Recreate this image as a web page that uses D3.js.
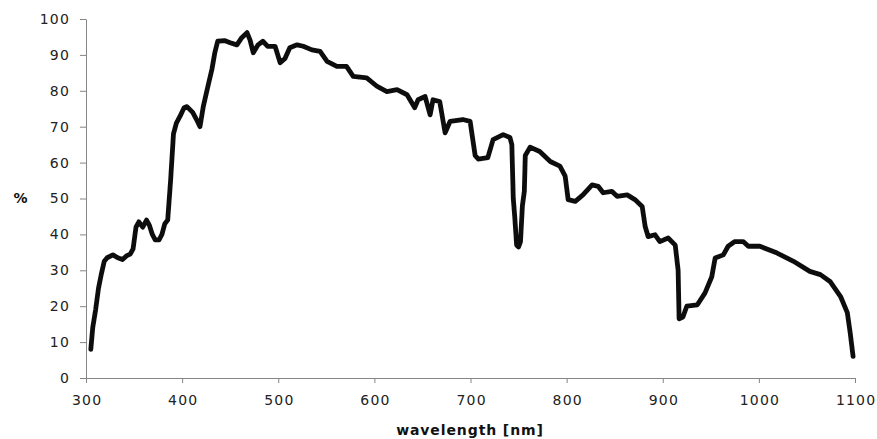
<!DOCTYPE html>
<html>
<head>
    <title>Spectrum</title>
    <script src="https://d3js.org/d3.v7.min.js"></script>
    <style>
        body { margin: 0; background: #fff; }
        .tick text { font: 14px "DejaVu Sans", Verdana, sans-serif; fill: #222; letter-spacing: 1.2px; }
        .domain, .tick line { stroke: #858585; }
        .title { font: bold 14px "DejaVu Sans", Verdana, sans-serif; fill: #111; letter-spacing: 0.9px; }
        .line { fill: none; stroke: #111; stroke-width: 4.8px; stroke-linejoin: round; stroke-linecap: round; }
    </style>
</head>
<body>
    <div id="chart"></div>

    <script>
        // wavelength [nm] and %
        const wavelengths = [
            305, 307, 310, 313, 316, 319, 322, 328, 333, 338, 342, 346, 349, 352, 355, 359, 363, 366, 369, 372,
            376, 379, 382, 385, 388, 391, 394, 398, 402, 405, 411, 415, 418.6, 422, 426, 431, 434, 437, 444, 450,
            457, 462, 467.5, 470.6, 474, 479, 484, 489, 496.7, 502, 507, 512, 519.6, 526, 535, 543.5, 550.8, 561, 571, 578,
            592, 603, 613, 623.6, 634, 642, 645.5, 652.8, 658, 661, 668, 673.6, 678.8, 692, 699.6, 704.8, 708, 718, 723.5, 734,
            741, 743, 744.5, 746, 748, 750, 752, 754, 756, 757, 762, 772, 783, 793, 798.5, 801.6, 809, 817, 826.5, 832.8,
            838, 847, 852.5, 863, 871, 878.6, 881.7, 884.8, 892, 897, 905.6, 913, 916, 917, 921, 925, 936, 944, 951, 954.5,
            963, 968, 975, 983.7, 989, 1001, 1019, 1036, 1053, 1064, 1074, 1085, 1092, 1095, 1098
        ];
        const percent = [
            8, 14, 19, 25, 29, 32.5, 33.5, 34.3, 33.5, 33, 34, 34.5, 36, 42, 43.5, 42, 44, 42.5, 40, 38.5,
            38.5, 40, 43, 44, 55, 68, 71, 73, 75.3, 75.6, 74, 72, 70, 75.6, 80.3, 86, 90.6, 93.8, 94, 93.4,
            92.8, 94.8, 96.2, 94.2, 90.6, 92.8, 93.8, 92.4, 92.4, 87.8, 89, 92, 92.8, 92.4, 91.4, 91, 88.2, 86.8, 86.8, 84,
            83.6, 81.2, 79.8, 80.3, 78.9, 75.3, 77.5, 78.4, 73.3, 77.5, 77, 68.3, 71.5, 72, 71.5, 62, 61, 61.4, 66.4, 67.8,
            67, 65, 50, 45, 37, 36.5, 38, 48, 52, 62, 64.3, 63.1, 60.3, 59, 56.2, 49.7, 49.2, 51, 53.8, 53.4,
            51.6, 52, 50.6, 51, 49.7, 47.8, 42.2, 39.4, 39.9, 38, 39, 37, 30, 16.5, 17, 20, 20.4, 23.7, 28.2, 33.4,
            34.3, 36.7, 38, 38, 36.7, 36.7, 34.8, 32.5, 29.7, 28.8, 26.9, 22.7, 18.2, 12.6, 6
        ];
        const xTicks = [300, 400, 500, 600, 700, 800, 900, 1000, 1100];
        const yTicks = [0, 10, 20, 30, 40, 50, 60, 70, 80, 90, 100];

        const width = 877;
        const height = 439;
        const margin = { top: 19, right: 22, bottom: 61, left: 86 };

        const svg = d3.select("#chart")
            .append("svg")
            .attr("width", width)
            .attr("height", height);

        const x = d3.scaleLinear()
            .domain([300, 1100])
            .range([margin.left, width - margin.right]);

        const y = d3.scaleLinear()
            .domain([0, 100])
            .range([height - margin.bottom, margin.top]);

        // soft edge like the scanned original
        svg.append("defs").append("filter")
            .attr("id", "soft")
            .append("feGaussianBlur")
            .attr("stdDeviation", 0.6);

        svg.append("g")
            .attr("transform", `translate(0,${height - margin.bottom})`)
            .call(d3.axisBottom(x).tickValues(xTicks).tickFormat(d3.format("d"))
                .tickSize(5).tickPadding(12).tickSizeOuter(0))
            .call(g => g.selectAll(".tick text").attr("dy", "0.71em").attr("dx", "0.6px"));

        svg.append("g")
            .attr("transform", `translate(${margin.left},0)`)
            .call(d3.axisLeft(y).tickValues(yTicks).tickSize(6).tickPadding(10).tickSizeOuter(0));

        const points = wavelengths.map((w, i) => [w, percent[i]]);

        svg.append("path")
            .datum(points)
            .attr("class", "line")
            .attr("filter", "url(#soft)")
            .attr("d", d3.line()
                .x(d => x(d[0]))
                .y(d => y(d[1])));

        svg.append("text")
            .attr("class", "title")
            .attr("x", 470)
            .attr("y", 435)
            .attr("text-anchor", "middle")
            .text("wavelength [nm]");

        svg.append("text")
            .attr("class", "title")
            .attr("x", 21)
            .attr("y", y(50))
            .attr("dy", "0.35em")
            .attr("text-anchor", "middle")
            .text("%");
    </script>
</body>
</html>
